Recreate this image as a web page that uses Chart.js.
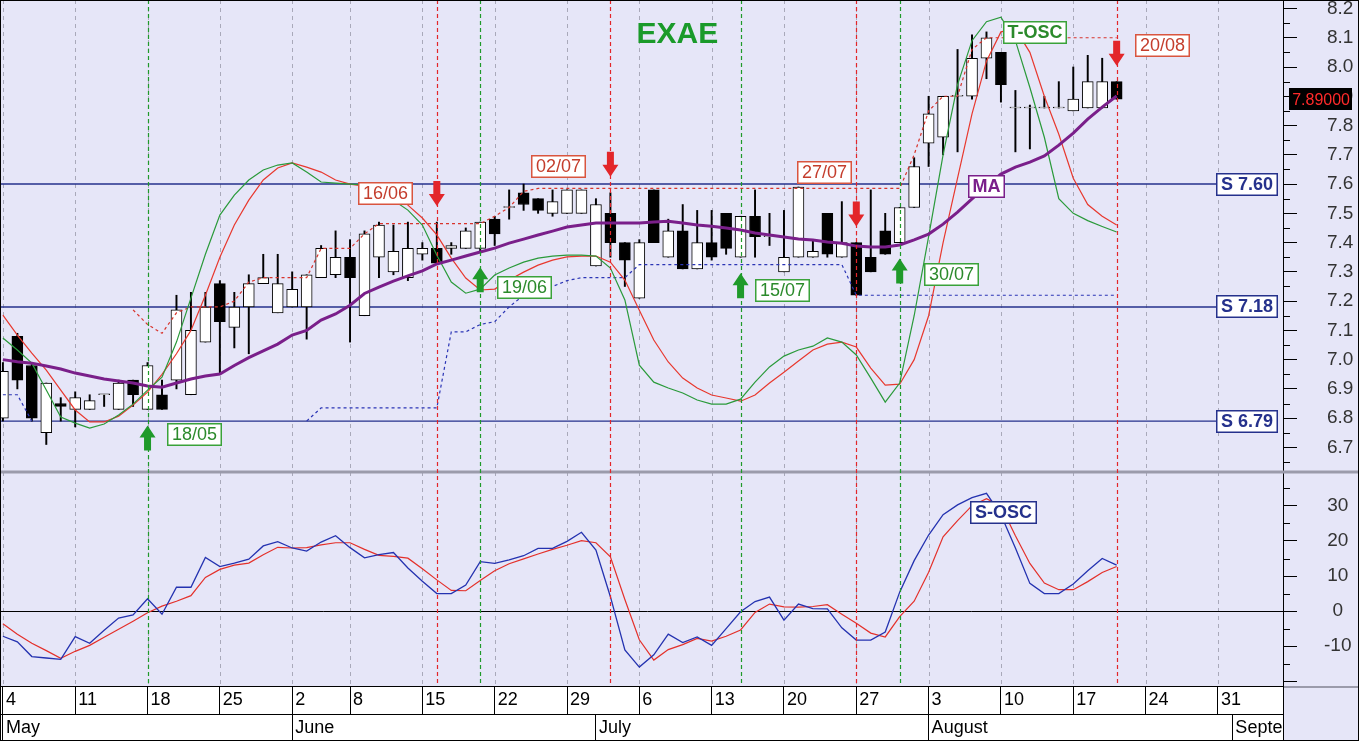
<!DOCTYPE html>
<html>
<head>
<meta charset="utf-8">
<title>EXAE</title>
<script src="https://cdn.jsdelivr.net/npm/chart.js@4.4.1/dist/chart.umd.min.js"></script>
<style>
  html, body { margin: 0; padding: 0; background: #ffffff; }
  #wrap { width: 1359px; height: 741px; }
</style>
</head>
<body>
<div id="wrap"><canvas id="canvas" width="1359" height="741"></canvas></div>
<script>
// Trading sessions (Athens exchange closed on Holy Spirit Monday)
const closedDays = ['2026-06-01'];
const sessions = [];
for (let d = new Date(Date.UTC(2026, 4, 4)); d <= new Date(Date.UTC(2026, 8, 4)); d.setUTCDate(d.getUTCDate() + 1)) {
    const wd = d.getUTCDay();
    if (wd === 0 || wd === 6 || closedDays.includes(d.toISOString().slice(0, 10))) continue;
    sessions.push(new Date(d.getTime()));
}
const monthNames = ['January', 'February', 'March', 'April', 'May', 'June', 'July', 'August', 'September', 'October', 'November', 'December'];

// Candles (one per session, 04/05 -> 20/08)
const opens = [6.80, 7.08, 6.98, 6.75, 6.85, 6.83, 6.83, 6.88, 6.83, 6.93,
    6.83, 6.88, 6.93, 6.88, 7.06, 7.26, 7.11, 7.18, 7.26, 7.16,
    7.18, 7.18, 7.28, 7.29, 7.35, 7.15, 7.35, 7.30, 7.28, 7.36,
    7.38, 7.38, 7.38, 7.38, 7.48, 7.52, 7.57, 7.55, 7.50, 7.50,
    7.50, 7.32, 7.50, 7.40, 7.21, 7.58, 7.35, 7.44, 7.31, 7.40,
    7.50, 7.35, 7.49, 7.42, 7.30, 7.35, 7.35, 7.50, 7.35, 7.40,
    7.35, 7.44, 7.40, 7.52, 7.74, 7.76, 7.90, 7.90, 8.03, 8.05,
    7.86, 7.86, 7.86, 7.86, 7.85, 7.86, 7.86, 7.95];
const highs = [6.99, 7.09, 6.99, 6.92, 6.87, 6.89, 6.88, 6.88, 6.93, 6.93,
    6.99, 6.93, 7.22, 7.23, 7.23, 7.27, 7.23, 7.29, 7.36, 7.36,
    7.30, 7.29, 7.39, 7.44, 7.41, 7.44, 7.47, 7.46, 7.47, 7.40,
    7.47, 7.40, 7.45, 7.47, 7.49, 7.58, 7.60, 7.55, 7.58, 7.58,
    7.58, 7.55, 7.57, 7.40, 7.41, 7.58, 7.48, 7.53, 7.51, 7.51,
    7.50, 7.49, 7.58, 7.50, 7.51, 7.59, 7.41, 7.50, 7.54, 7.40,
    7.58, 7.50, 7.52, 7.69, 7.90, 7.90, 8.06, 8.11, 8.12, 8.05,
    7.92, 7.87, 7.90, 7.95, 8.00, 8.04, 8.03, 7.95];
const lows = [6.79, 6.90, 6.79, 6.71, 6.79, 6.77, 6.83, 6.84, 6.83, 6.84,
    6.83, 6.83, 6.90, 6.88, 7.06, 6.95, 7.04, 7.02, 7.26, 7.16,
    7.18, 7.07, 7.28, 7.28, 7.06, 7.15, 7.28, 7.29, 7.27, 7.34,
    7.33, 7.36, 7.38, 7.37, 7.39, 7.48, 7.51, 7.50, 7.49, 7.50,
    7.50, 7.32, 7.35, 7.25, 7.21, 7.40, 7.35, 7.31, 7.31, 7.34,
    7.36, 7.35, 7.35, 7.39, 7.30, 7.35, 7.35, 7.35, 7.35, 7.22,
    7.30, 7.36, 7.40, 7.52, 7.66, 7.70, 7.71, 7.89, 7.96, 7.88,
    7.71, 7.72, 7.86, 7.86, 7.85, 7.86, 7.86, 7.89];
const closes = [6.96, 6.93, 6.80, 6.92, 6.84, 6.87, 6.86, 6.88, 6.92, 6.88,
    6.98, 6.83, 7.17, 7.10, 7.18, 7.13, 7.18, 7.26, 7.28, 7.26,
    7.24, 7.29, 7.38, 7.35, 7.28, 7.43, 7.46, 7.37, 7.38, 7.38,
    7.33, 7.39, 7.44, 7.47, 7.43, 7.52, 7.53, 7.51, 7.54, 7.58,
    7.58, 7.53, 7.40, 7.34, 7.40, 7.40, 7.44, 7.31, 7.40, 7.35,
    7.38, 7.49, 7.42, 7.42, 7.35, 7.59, 7.37, 7.36, 7.40, 7.22,
    7.30, 7.36, 7.52, 7.66, 7.84, 7.90, 7.90, 8.03, 8.10, 7.94,
    7.86, 7.86, 7.86, 7.86, 7.89, 7.95, 7.95, 7.89];

// Moving average
const ma = [7.000, 6.993, 6.988, 6.978, 6.968, 6.954, 6.944, 6.934, 6.927, 6.920,
    6.910, 6.906, 6.920, 6.934, 6.944, 6.951, 6.980, 7.007, 7.030, 7.053,
    7.084, 7.100, 7.135, 7.156, 7.186, 7.226, 7.248, 7.268, 7.286, 7.303,
    7.327, 7.340, 7.354, 7.368, 7.381, 7.398, 7.412, 7.426, 7.439, 7.453,
    7.460, 7.467, 7.467, 7.467, 7.467, 7.470, 7.473, 7.467, 7.460, 7.456,
    7.450, 7.443, 7.433, 7.426, 7.419, 7.412, 7.409, 7.402, 7.398, 7.388,
    7.385, 7.385, 7.392, 7.409, 7.429, 7.463, 7.504, 7.549, 7.593, 7.634,
    7.658, 7.675, 7.696, 7.733, 7.774, 7.822, 7.863, 7.901];

// T-OSC (price panel)
const tOscFast = [7.074, 7.033, 6.988, 6.896, 6.804, 6.783, 6.766, 6.780, 6.811, 6.848,
    6.896, 6.940, 7.060, 7.210, 7.360, 7.494, 7.562, 7.614, 7.648, 7.665,
    7.672, 7.641, 7.607, 7.603, 7.600, 7.597, 7.579, 7.545, 7.511, 7.460,
    7.357, 7.265, 7.227, 7.241, 7.289, 7.313, 7.333, 7.347, 7.354, 7.357,
    7.357, 7.354, 7.313, 7.204, 6.981, 6.923, 6.903, 6.886, 6.862, 6.848,
    6.848, 6.865, 6.923, 6.975, 7.012, 7.033, 7.046, 7.074, 7.060, 7.016,
    6.937, 6.855, 6.920, 7.150, 7.420, 7.700, 7.940, 8.090, 8.155, 8.170,
    8.090, 7.930, 7.760, 7.550, 7.500, 7.475, 7.455, 7.436];
const tOscSlow = [7.152, 7.084, 7.022, 6.964, 6.896, 6.828, 6.787, 6.787, 6.807, 6.845,
    6.889, 6.950, 7.020, 7.100, 7.220, 7.350, 7.460, 7.545, 7.614, 7.655,
    7.672, 7.658, 7.641, 7.614, 7.600, 7.593, 7.579, 7.562, 7.528, 7.484,
    7.426, 7.347, 7.279, 7.238, 7.241, 7.272, 7.299, 7.323, 7.340, 7.351,
    7.354, 7.354, 7.333, 7.272, 7.169, 7.067, 6.992, 6.937, 6.903, 6.879,
    6.869, 6.858, 6.879, 6.920, 6.957, 6.995, 7.033, 7.053, 7.060, 7.043,
    6.971, 6.913, 6.916, 7.000, 7.150, 7.400, 7.620, 7.840, 8.020, 8.120,
    8.130, 8.050, 7.900, 7.770, 7.620, 7.530, 7.490, 7.460];

// Trailing resistance (red dotted) and support (blue dotted)
const resistance = [null, null, null, null, null, null, null, null, null, 7.17,
    7.12, 7.09, 7.16, 7.18, 7.18, 7.18, 7.20, 7.265, 7.28, 7.28,
    7.28, 7.28, 7.38, 7.38, 7.38, 7.43, 7.465, 7.465, 7.465, 7.465,
    7.465, 7.465, 7.465, 7.465, 7.49, 7.52, 7.575, 7.585, 7.585, 7.585,
    7.585, 7.585, 7.585, 7.585, 7.585, 7.585, 7.585, 7.585, 7.585, 7.585,
    7.585, 7.585, 7.585, 7.585, 7.585, 7.585, 7.585, 7.585, 7.585, 7.585,
    7.585, 7.585, 7.585, 7.70, 7.85, 7.90, 7.90, 8.06, 8.10, 8.10,
    8.10, 8.10, 8.10, 8.10, 8.10, 8.10, 8.10, 8.10];
const support = [6.88, 6.88, 6.79, null, null, null, null, null, null, null,
    null, null, null, null, null, null, null, null, null, null,
    null, 6.79, 6.835, 6.835, 6.835, 6.835, 6.835, 6.835, 6.835, 6.835,
    6.835, 7.095, 7.095, 7.12, 7.13, 7.18, 7.22, 7.24, 7.25, 7.27,
    7.28, 7.28, 7.28, 7.28, 7.325, 7.325, 7.325, 7.325, 7.325, 7.325,
    7.325, 7.325, 7.325, 7.325, 7.325, 7.325, 7.325, 7.325, 7.325, 7.22,
    7.22, 7.22, 7.22, 7.22, 7.22, 7.22, 7.22, 7.22, 7.22, 7.22,
    7.22, 7.22, 7.22, 7.22, 7.22, 7.22, 7.22, 7.22];

// S-OSC (lower panel)
const sOscFast = [-7.2, -8.8, -13.0, -13.4, -13.8, -7.3, -9.2, -5.5, -2.0, -1.1,
    3.5, -0.9, 6.8, 6.8, 15.3, 12.7, 13.7, 14.8, 18.6, 19.8,
    18.0, 17.1, 19.7, 21.5, 18.1, 15.2, 16.1, 16.7, 12.3, 8.5,
    5.0, 5.0, 7.4, 14.1, 13.6, 14.6, 15.8, 17.9, 17.9, 19.9,
    22.5, 17.4, 4.1, -11.1, -16.0, -12.5, -6.6, -9.0, -7.4, -9.8,
    -5.0, -0.2, 2.7, 4.0, -2.6, 2.0, 0.7, 0.6, -4.8, -8.3,
    -8.3, -6.0, 5.4, 14.4, 21.7, 27.5, 30.3, 32.4, 33.6, 27.5,
    18.0, 7.9, 5.0, 5.0, 7.7, 11.5, 15.0, 13.1];
const sOscSlow = [-3.6, -6.6, -9.2, -11.3, -13.5, -11.5, -9.8, -7.5, -5.2, -2.9,
    -0.5, 1.4, 2.8, 4.4, 9.6, 11.9, 13.1, 13.7, 16.1, 18.2,
    18.0, 18.1, 18.9, 19.5, 19.5, 17.6, 15.9, 15.6, 15.1, 12.1,
    8.9, 5.9, 5.8, 8.7, 11.5, 13.5, 14.9, 16.3, 17.6, 18.8,
    20.1, 19.5, 15.5, 3.3, -8.2, -14.0, -11.0, -9.6, -7.8, -8.6,
    -7.2, -5.4, -0.4, 2.0, 1.2, 1.1, 1.3, 1.8, -0.9, -3.5,
    -6.3, -7.4, -1.6, 2.8, 11.1, 21.2, 25.8, 30.1, 32.1, 30.0,
    21.5, 13.6, 8.0, 6.1, 6.1, 8.4, 11.0, 12.7];

// Support levels and trade signals
const supportLevels = [7.60, 7.18, 6.79];
const signalDays = [10, 30, 33, 42, 51, 59, 62, 77];
const signalKinds = ['buy', 'sell', 'buy', 'sell', 'buy', 'sell', 'buy', 'sell'];
const signalTexts = ['18/05', '16/06', '19/06', '02/07', '15/07', '27/07', '30/07', '20/08'];

// --- style ---
const FONT = "'Liberation Sans', Arial, Helvetica, sans-serif";
const BG = '#e6e6f8';
const GREEN = '#1f9a2a';
const RED = '#e3262a';
const NAVY = '#25318c';
const tagPlacement = [
    { dx: 19, dy: -3, align: 'left' },
    { dx: -24, dy: 0, align: 'right' },
    { dx: 17, dy: 8, align: 'left' },
    { dx: -24, dy: 2, align: 'right' },
    { dx: 14, dy: 5, align: 'left' },
    { dx: -4, dy: -42, align: 'right' },
    { dx: 24, dy: 3, align: 'left' },
    { dx: 18, dy: -8, align: 'left' }
];

Chart.defaults.font.family = FONT;

const weekStarts = [];
const monthStarts = [];
sessions.forEach((d, i) => {
    const prev = sessions[i - 1];
    if (!prev || d.getUTCDay() <= prev.getUTCDay()) weekStarts.push(i);
    if (!prev || d.getUTCMonth() !== prev.getUTCMonth()) monthStarts.push(i);
});

const xy = arr => arr.map((v, i) => ({ x: i, y: v }));

// axis boxes keep a fixed size and add no extra padding to the chart area
const fixWidth = s => { s.width = 76; s.paddingTop = 0; s.paddingBottom = 0; };
const fixHeight = h => s => { s.height = h; s.paddingLeft = 0; s.paddingRight = 0; };

function drawTag(ctx, text, x, y, align, o) {
    ctx.save();
    ctx.font = o.font;
    const w = Math.round(ctx.measureText(text).width + (o.pad || 10));
    const h = o.h || 23;
    let left = align === 'left' ? x : align === 'right' ? x - w : x - w / 2;
    left = Math.round(left);
    const top = Math.round(y - h / 2);
    ctx.fillStyle = o.fill || '#ffffff';
    ctx.fillRect(left, top, w, h);
    if (o.border) {
        ctx.strokeStyle = o.border;
        ctx.lineWidth = 1.5;
        ctx.strokeRect(left + 0.75, top + 0.75, w - 1.5, h - 1.5);
    }
    ctx.fillStyle = o.color;
    ctx.textAlign = 'center';
    ctx.textBaseline = 'middle';
    ctx.fillText(text, left + w / 2, top + h / 2 + 1);
    ctx.restore();
}

function drawArrow(ctx, x, tipY, dir, color) {
    const s = dir === 'up' ? 1 : -1;
    ctx.save();
    ctx.fillStyle = color;
    ctx.beginPath();
    ctx.moveTo(x, tipY);
    ctx.lineTo(x + 8, tipY + s * 12);
    ctx.lineTo(x + 3.5, tipY + s * 12);
    ctx.lineTo(x + 3.5, tipY + s * 25);
    ctx.lineTo(x - 3.5, tipY + s * 25);
    ctx.lineTo(x - 3.5, tipY + s * 12);
    ctx.lineTo(x - 8, tipY + s * 12);
    ctx.closePath();
    ctx.fill();
    ctx.restore();
}

const decorations = {
    id: 'decorations',
    beforeDraw(chart) {
        const { ctx, chartArea: a } = chart;
        ctx.save();
        ctx.fillStyle = BG;
        ctx.fillRect(0, 0, chart.width, chart.height);
        ctx.fillStyle = '#ffffff';
        ctx.fillRect(a.left, a.bottom, a.right - a.left, chart.height - a.bottom);
        ctx.restore();
    },
    beforeDatasetsDraw(chart) {
        const { ctx, chartArea: a, scales } = chart;
        ctx.save();
        // weekly grid
        ctx.strokeStyle = '#a9a9ba';
        ctx.lineWidth = 1;
        ctx.setLineDash([4, 4]);
        weekStarts.forEach(i => {
            const x = Math.round(scales.x.getPixelForValue(i)) + 0.5;
            ctx.beginPath();
            ctx.moveTo(x, a.top);
            ctx.lineTo(x, a.bottom);
            ctx.stroke();
        });
        ctx.setLineDash([]);
        // support levels
        ctx.strokeStyle = NAVY;
        ctx.lineWidth = 1.4;
        supportLevels.forEach(v => {
            const y = scales.y.getPixelForValue(v);
            ctx.beginPath();
            ctx.moveTo(a.left, y);
            ctx.lineTo(a.right - 60, y);
            ctx.stroke();
        });
        // zero line
        const y0 = Math.round(scales.y2.getPixelForValue(0)) + 0.5;
        ctx.strokeStyle = '#000000';
        ctx.lineWidth = 1;
        ctx.beginPath();
        ctx.moveTo(a.left, y0);
        ctx.lineTo(a.right + 12, y0);
        ctx.stroke();
        // panel separator
        const ys = scales.y.bottom;
        ctx.strokeStyle = '#9b9bab';
        ctx.lineWidth = 3;
        ctx.beginPath();
        ctx.moveTo(0, ys);
        ctx.lineTo(chart.width, ys);
        ctx.stroke();
        ctx.restore();
    },
    afterDatasetsDraw(chart) {
        const { ctx, chartArea: a, scales } = chart;
        const sx = scales.x, sy = scales.y, sy2 = scales.y2;
        ctx.save();
        // signal verticals
        ctx.lineWidth = 1.2;
        ctx.setLineDash([4, 3]);
        signalDays.forEach((d, k) => {
            const x = Math.round(sx.getPixelForValue(d)) + 0.5;
            ctx.strokeStyle = signalKinds[k] === 'buy' ? GREEN : RED;
            ctx.beginPath();
            ctx.moveTo(x, a.top);
            ctx.lineTo(x, a.bottom);
            ctx.stroke();
        });
        ctx.setLineDash([]);
        // arrows and date tags
        signalDays.forEach((d, k) => {
            const x = sx.getPixelForValue(d);
            const p = tagPlacement[k];
            if (signalKinds[k] === 'buy') {
                const tip = sy.getPixelForValue(lows[d]) + 16;
                drawArrow(ctx, x, tip, 'up', GREEN);
                drawTag(ctx, signalTexts[k], x + p.dx, tip + 12.5 + p.dy, p.align,
                    { font: '18px ' + FONT, color: '#2b8a2b', border: '#3aa23a', pad: 10 });
            } else {
                const tip = sy.getPixelForValue(highs[d]) - 16;
                drawArrow(ctx, x, tip, 'down', RED);
                drawTag(ctx, signalTexts[k], x + p.dx, tip - 12.5 + p.dy, p.align,
                    { font: '18px ' + FONT, color: '#c43d2c', border: '#d9553f', pad: 10 });
            }
        });
        // support tags
        supportLevels.forEach(v => {
            drawTag(ctx, 'S ' + v.toFixed(2), a.right - 5, sy.getPixelForValue(v), 'right',
                { font: 'bold 18px ' + FONT, color: NAVY, border: NAVY, pad: 10 });
        });
        // series tags
        drawTag(ctx, 'MA', sx.getPixelForValue(68), sy.getPixelForValue(ma[68]), 'center',
            { font: 'bold 18px ' + FONT, color: '#7a1f8a', border: '#7a1f8a', pad: 9 });
        drawTag(ctx, 'T-OSC', sx.getPixelForValue(69) + 2, sy.getPixelForValue(tOscFast[69]) + 15, 'left',
            { font: 'bold 18px ' + FONT, color: '#2b8a2b', border: '#3aa23a', pad: 9 });
        drawTag(ctx, 'S-OSC', sx.getPixelForValue(69) + 3, sy2.getPixelForValue(sOscFast[69]) - 2, 'center',
            { font: 'bold 18px ' + FONT, color: NAVY, border: NAVY, pad: 10 });
        // title
        ctx.font = 'bold 30px ' + FONT;
        ctx.fillStyle = '#1a9a2a';
        ctx.textAlign = 'center';
        ctx.textBaseline = 'middle';
        ctx.fillText('EXAE', a.left + (a.right - a.left) * 0.528, 35);
        // last price on axis
        const last = closes[closes.length - 1];
        const ly = sy.getPixelForValue(last);
        ctx.fillStyle = '#000000';
        ctx.fillRect(sy.left + 6, Math.round(ly - 11), 63, 22);
        ctx.font = '16px ' + FONT;
        ctx.fillStyle = '#ff2a2a';
        ctx.textAlign = 'right';
        ctx.fillText(last.toFixed(5), sy.left + 67, ly + 1);
        // minor ticks
        ctx.strokeStyle = '#000000';
        ctx.lineWidth = 1;
        for (let v = 6.65; v < 8.2; v += 0.1) {
            const y = Math.round(sy.getPixelForValue(v)) + 0.5;
            ctx.beginPath(); ctx.moveTo(sy.left, y); ctx.lineTo(sy.left + 7, y); ctx.stroke();
        }
        for (let v = -15; v < 40; v += 10) {
            const y = Math.round(sy2.getPixelForValue(v)) + 0.5;
            ctx.beginPath(); ctx.moveTo(sy2.left, y); ctx.lineTo(sy2.left + 7, y); ctx.stroke();
        }
        ctx.restore();
    },
    afterDraw(chart) {
        const { ctx, chartArea: a } = chart;
        ctx.save();
        ctx.fillStyle = BG;
        ctx.fillRect(a.right + 1, a.bottom + 1, chart.width - a.right - 1, chart.height - a.bottom - 1);
        ctx.strokeStyle = '#9b9bab';
        ctx.lineWidth = 2;
        ctx.beginPath(); ctx.moveTo(a.right, a.bottom + 1); ctx.lineTo(chart.width, a.bottom + 1); ctx.stroke();
        ctx.strokeStyle = '#000000';
        ctx.lineWidth = 1;
        ctx.beginPath(); ctx.moveTo(a.right + 0.5, a.bottom); ctx.lineTo(a.right + 0.5, chart.height); ctx.stroke();
        ctx.strokeRect(0.5, 0.5, chart.width - 1, chart.height - 1);
        ctx.restore();
    }
};

const axisFont = { family: FONT, size: 18 };

new Chart(document.querySelector('#canvas'), {
    type: 'line',
    data: {
        datasets: [
            {
                type: 'bar', label: 'range', yAxisID: 'y',
                data: lows.map((l, i) => ({ x: i, y: [l, highs[i]] })),
                backgroundColor: '#000000', borderWidth: 0,
                barThickness: 1.3, grouped: false, order: 10
            },
            {
                type: 'bar', label: 'body', yAxisID: 'y',
                data: opens.map((o, i) => ({ x: i, y: [o, closes[i]] })),
                backgroundColor: c => closes[c.dataIndex] < opens[c.dataIndex] ? '#000000' : '#ffffff',
                borderColor: '#000000', borderWidth: 1, borderSkipped: false,
                barThickness: 11, minBarLength: 1, grouped: false, order: 9
            },
            {
                label: 'resistance', yAxisID: 'y', data: xy(resistance),
                borderColor: '#d8342c', borderWidth: 1.2, borderDash: [3, 3], pointRadius: 0, order: 6
            },
            {
                label: 'support', yAxisID: 'y', data: xy(support),
                borderColor: '#2b35b5', borderWidth: 1.2, borderDash: [3, 3], pointRadius: 0, order: 6
            },
            {
                label: 'T-OSC slow', yAxisID: 'y', data: xy(tOscSlow),
                borderColor: '#e8382e', borderWidth: 1.2, pointRadius: 0, order: 4
            },
            {
                label: 'T-OSC fast', yAxisID: 'y', data: xy(tOscFast),
                borderColor: '#2a9a3a', borderWidth: 1.2, pointRadius: 0, order: 3
            },
            {
                label: 'MA', yAxisID: 'y', data: xy(ma),
                borderColor: '#7a1f8a', borderWidth: 3, pointRadius: 0, order: 2
            },
            {
                label: 'S-OSC slow', yAxisID: 'y2', data: xy(sOscSlow),
                borderColor: '#e4302a', borderWidth: 1.2, pointRadius: 0, order: 2
            },
            {
                label: 'S-OSC fast', yAxisID: 'y2', data: xy(sOscFast),
                borderColor: '#2432b0', borderWidth: 1.3, pointRadius: 0, order: 1
            }
        ]
    },
    options: {
        responsive: false,
        animation: false,
        events: [],
        spanGaps: false,
        layout: { padding: 0, autoPadding: false },
        plugins: { legend: { display: false }, tooltip: { enabled: false } },
        scales: {
            x: {
                type: 'linear', axis: 'x', position: 'bottom', min: -0.2, max: 88.5, offset: false,
                afterBuildTicks: s => { s.ticks = weekStarts.map(v => ({ value: v })); },
                afterFit: fixHeight(28),
                grid: { offset: false, drawOnChartArea: false, drawTicks: true, tickLength: 28, tickColor: '#000000', tickWidth: 1 },
                border: { display: true, color: '#000000', width: 1 },
                ticks: {
                    autoSkip: false, maxRotation: 0, align: 'start', labelOffset: 3, padding: -25,
                    color: '#000000', font: axisFont,
                    callback: (v, i) => String(sessions[weekStarts[i]].getUTCDate())
                }
            },
            xm: {
                type: 'linear', axis: 'x', position: 'bottom', min: -0.2, max: 88.5, offset: false,
                afterBuildTicks: s => { s.ticks = monthStarts.map(v => ({ value: v })); },
                afterFit: fixHeight(27),
                grid: { offset: false, drawOnChartArea: false, drawTicks: true, tickLength: 27, tickColor: '#000000', tickWidth: 1 },
                border: { display: true, color: '#000000', width: 1 },
                ticks: {
                    autoSkip: false, maxRotation: 0, align: 'start', labelOffset: 3, padding: -24,
                    color: '#000000', font: axisFont,
                    callback: (v, i) => monthNames[sessions[monthStarts[i]].getUTCMonth()]
                }
            },
            y: {
                type: 'linear', position: 'right', stack: 'panels', stackWeight: 472,
                min: 6.616, max: 8.229,
                afterFit: fixWidth,
                grid: { drawOnChartArea: false, drawTicks: true, tickLength: 14, tickColor: '#000000' },
                border: { display: true, color: '#000000' },
                ticks: {
                    stepSize: 0.1, includeBounds: false, autoSkip: false, crossAlign: 'near', padding: 30,
                    color: '#333333', font: { family: FONT, size: 19 },
                    callback: v => v.toFixed(1)
                }
            },
            y2: {
                type: 'linear', position: 'right', stack: 'panels', stackWeight: 214,
                min: -21.4, max: 39.7,
                afterFit: fixWidth,
                grid: { drawOnChartArea: false, drawTicks: true, tickLength: 14, tickColor: '#000000' },
                border: { display: true, color: '#000000' },
                ticks: {
                    stepSize: 10, includeBounds: false, autoSkip: false, crossAlign: 'center', padding: 27,
                    color: '#333333', font: { family: FONT, size: 19 },
                    callback: v => (v === -20 ? '' : String(v))
                }
            }
        }
    },
    plugins: [decorations]
});
</script>
</body>
</html>
